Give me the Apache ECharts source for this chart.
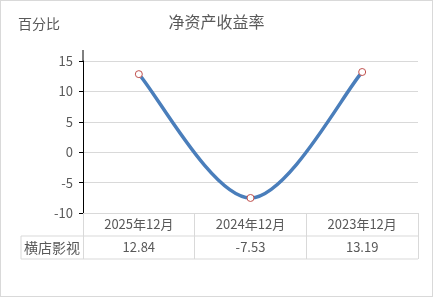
<!DOCTYPE html>
<html><head><meta charset="utf-8">
<script src="https://cdn.jsdelivr.net/npm/echarts@6/dist/echarts.min.js"></script>
<style>html,body{margin:0;padding:0;background:#fff}#c{width:433px;height:297px;box-sizing:border-box;border:1px solid #d9d9d9}</style>
</head><body><div id="c"></div>
<script>
const categories = ['2025年12月', '2024年12月', '2023年12月'];
const seriesName = '横店影视';
const values = [12.84, -7.53, 13.19];
const yTicks = { min: -10, max: 15, interval: 5 };
const titleText = '净资产收益率';
const yName = '百分比';

const FONT = '"Noto Sans CJK SC", "Liberation Sans", sans-serif';
const chart = echarts.init(document.getElementById('c'), null, { renderer: 'canvas' });
const gridL = 82, gridR = 14, gridT = 60, gridB = 83;

// Excel-like (Catmull-Rom) smoothing, each segment drawn via the axes' coord mapping
function renderSegment(params, api) {
  const i = params.dataIndex;
  if (i >= values.length - 1) return null;
  const P = k => api.coord([Math.max(0, Math.min(values.length - 1, k)), values[Math.max(0, Math.min(values.length - 1, k))]]);
  const p0 = P(i - 1), p1 = P(i), p2 = P(i + 1), p3 = P(i + 2);
  const t = 1 / 6;
  return {
    type: 'bezierCurve',
    shape: {
      x1: p1[0], y1: p1[1], x2: p2[0], y2: p2[1],
      cpx1: p1[0] + (p2[0] - p0[0]) * t, cpy1: p1[1] + (p2[1] - p0[1]) * t,
      cpx2: p2[0] - (p3[0] - p1[0]) * t, cpy2: p2[1] - (p3[1] - p1[1]) * t
    },
    style: { stroke: '#4a7ebb', lineWidth: 3.5, fill: null, lineCap: 'round' }
  };
}

chart.setOption({
  animation: false,
  textStyle: { fontFamily: FONT },
  title: { text: titleText, left: 'center', top: 8, textStyle: { fontFamily: FONT, fontSize: 16, fontWeight: 'normal', color: '#595959' } },
  grid: { left: gridL, right: gridR, top: gridT, bottom: gridB },
  xAxis: {
    type: 'category', data: categories, boundaryGap: true,
    axisLine: { onZero: false, lineStyle: { color: '#d9d9d9', width: 1 } },
    axisTick: { show: true, interval: 0, length: 46, lineStyle: { color: '#d9d9d9' } },
    axisLabel: { interval: 0, margin: 5, color: '#595959', fontSize: 13, fontFamily: FONT }
  },
  yAxis: [{
    type: 'value', min: yTicks.min, max: yTicks.max, interval: yTicks.interval,
    axisLine: { show: true, lineStyle: { color: '#000', width: 1 } },
    axisTick: { show: true, length: 4, lineStyle: { color: '#000' } },
    axisLabel: { color: '#595959', fontSize: 13, margin: 10, fontFamily: FONT },
    splitLine: { show: true, lineStyle: { color: '#d9d9d9' } }
  }],
  series: [
    { name: seriesName + '曲线', type: 'custom', renderItem: renderSegment, data: values.map((v, i) => [i, v]), z: 3, silent: true },
    {
      name: seriesName, type: 'line', data: values,
      lineStyle: { width: 0, opacity: 0 },
      symbol: 'circle', symbolSize: 7, showSymbol: true,
      itemStyle: { color: '#fff', borderColor: '#c0504d', borderWidth: 1 },
      z: 4
    }
  ]
});

const x0 = chart.convertToPixel({ xAxisIndex: 0 }, 0);
const step = chart.convertToPixel({ xAxisIndex: 0 }, 1) - x0;
const left = x0 - step / 2, right = x0 + step * (categories.length - 0.5);
const yBottom = chart.convertToPixel({ yAxisIndex: 0 }, yTicks.min);
const yTop = chart.convertToPixel({ yAxisIndex: 0 }, yTicks.max);
const rowH = 23;
const tblLeft = 20;
const line = (x1, y1, x2, y2, c) => ({ type: 'line', shape: { x1, y1, x2, y2 }, style: { stroke: c || '#d9d9d9', lineWidth: 1 }, silent: true });
const g = [];
g.push(line(tblLeft, yBottom + rowH, right, yBottom + rowH));
g.push(line(tblLeft, yBottom + 2 * rowH, right, yBottom + 2 * rowH));
g.push(line(tblLeft, yBottom + rowH, tblLeft, yBottom + 2 * rowH));
g.push(line(left, yTop - 11, left, yTop, '#000'));
g.push({ type: 'text', left: 17, top: 16, style: { text: yName, font: '14px ' + FONT, fill: '#595959' } });
g.push({ type: 'text', x: (tblLeft + left) / 2, y: yBottom + rowH * 1.5, style: { text: seriesName, font: '14px ' + FONT, fill: '#595959', textAlign: 'center', textVerticalAlign: 'middle' } });
values.forEach((v, i) => {
  g.push({ type: 'text', x: x0 + step * i, y: yBottom + rowH * 1.5, style: { text: v.toFixed(2), font: '13px ' + FONT, fill: '#595959', textAlign: 'center', textVerticalAlign: 'middle' } });
});
chart.setOption({ graphic: g });
</script></body></html>
